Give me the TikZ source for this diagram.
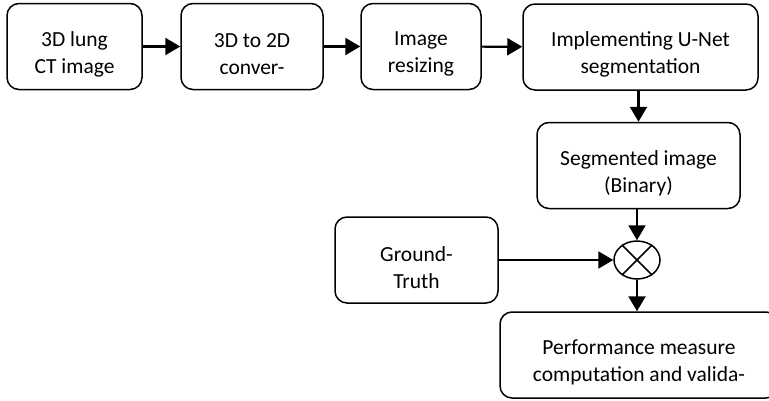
\documentclass[tikz,border=0pt]{standalone}
\usepackage{fontspec}
\setmainfont{Carlito}
\usetikzlibrary{arrows.meta,shapes.geometric}
\tikzset{>={Triangle[length=15pt,width=17pt]}}
\newcommand{\stagetext}[2]{\vbox{\kern15pt\baselineskip=27pt
  \halign{\hfil##\hfil\cr #1\cr #2\cr}}}
\tikzset{
  stage/.style={draw, line width=1.5pt, rounded corners=12pt,
    minimum width=#1, minimum height=86pt, inner sep=0pt,
    font=\fontsize{21.5}{27}\selectfont},
  flow/.style={->, line width=2.2pt}
}

\begin{document}
\begin{tikzpicture}[x=1pt, y=-1pt]
     \useasboundingbox (0,0) rectangle (769,400);
     \node[stage=135pt] (lung) at (74.5,46.5) {\stagetext{3D lung}{CT image}};
     \node[stage=142pt] (conv) at (252,46.5) {\stagetext{3D to 2D}{conver-}};
     \node[stage=120pt] (resize) at (421,46.5) {\stagetext{Image}{resizing}};
     \node[stage=235pt] (unet) at (640.5,47) {\stagetext{Implementing U-Net}{segmentation}};
     \node[stage=203pt] (seg) at (638.5,165.5) {\stagetext{Segmented image}{(Binary)}};
     \node[stage=163pt] (truth) at (416.5,260) {\stagetext{Ground-}{Truth}};
     \node[draw, ellipse, line width=1.5pt, minimum width=46pt, minimum height=38pt, inner sep=0pt] (mix) at (637,260) {};
     \draw[line width=1.5pt] (mix.45) -- (mix.225) (mix.135) -- (mix.315);
     \node[stage=278pt] (perf) at (639,355) {\stagetext{Performance measure}{computation and valida-}};
     \draw[flow] (lung) -- (conv);
     \draw[flow] (conv) -- (resize);
     \draw[flow] (resize) -- (unet);
     \draw[flow] (unet.south -| seg.north) -- (seg.north);
     \draw[flow] (seg.south -| mix.north) -- (mix.north);
     \draw[flow] (truth) -- (mix);
     \draw[flow] (mix.south) -- (mix.south |- perf.north);
\end{tikzpicture}
\end{document}
